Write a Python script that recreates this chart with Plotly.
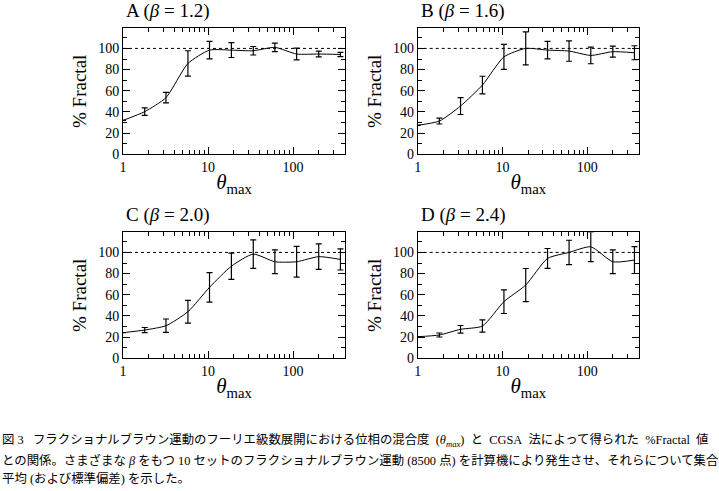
import plotly.graph_objects as go

# ---- data ----
theta_max = [1, 1.8, 3.2, 5.8, 10.4, 18.8, 34, 61, 110, 200, 360]

panel_titles = ["A (<i>β</i> = 1.2)", "B (<i>β</i> = 1.6)", "C (<i>β</i> = 2.0)", "D (<i>β</i> = 2.4)"]

fractal_A = [32, 40.3, 53.5, 85.8, 98.4, 98.4, 97.8, 101, 94.7, 94.7, 94.3]
err_A = [None, 3.5, 5, 12, 8.3, 7, 4, 4, 5.5, 2.7, 2]

fractal_B = [27.4, 31.4, 45.6, 65.4, 92, 100, 98.4, 97.5, 93.4, 96.9, 95.9]
err_B = [None, 2.8, 8, 8.3, 11.8, 15.6, 8.3, 9.6, 7.9, 5.2, 6.6]

fractal_C = [24.2, 26.7, 30.8, 44, 67, 87, 98.4, 91.2, 91.2, 96, 93.4]
err_C = [None, 2.4, 6.3, 10.8, 14, 12.4, 13.5, 11.2, 14.6, 12, 10]

fractal_D = [20.4, 22, 27.4, 30.5, 53.5, 69.2, 94.3, 100, 105.3, 91.2, 92.8]
err_D = [None, 1.9, 3.6, 5.7, 11.2, 15.6, 9.4, 11.5, 14, 11.2, 12.7]

y_ticks = [0, 20, 40, 60, 80, 100]
x_ticks = [1, 10, 100]
x_tick_labels = ["1", "10", "100"]
reference_level = 100

NB = "\u00a0"
caption_lines = [
    "図 3" + NB * 3 + "フラクショナルブラウン運動のフーリエ級数展開における位相の混合度" + NB * 2
    + "(<i>θ<sub>max</sub></i>)" + NB * 2 + "と" + NB * 2 + "CGSA" + NB * 2 + "法によって得られた" + NB * 2
    + "%Fractal" + NB * 2 + "値",
    "との関係。さまざまな <i>β</i> をもつ 10 セットのフラクショナルブラウン運動 (8500 点) を計算機により発生させ、それらについて集合",
    "平均 (および標準偏差) を示した。",
]

# ---- layout helpers ----
W, H = 719, 491
def px(x):
    return x / W
def py(y):
    return 1 - y / H

panels = [
    (fractal_A, err_A, (123, 345), (28.3, 154.3)),
    (fractal_B, err_B, (417.7, 639), (28.3, 154.3)),
    (fractal_C, err_C, (123, 345), (232.3, 358.3)),
    (fractal_D, err_D, (417.7, 639), (232.3, 358.3)),
]

serif = "Liberation Serif, DejaVu Serif, serif"

fig = go.Figure()
annotations = []
shapes = []
for i, (vals, errs, (x0, x1), (yt, yb)) in enumerate(panels):
    n = i + 1
    xa = "x" if n == 1 else f"x{n}"
    ya = "y" if n == 1 else f"y{n}"
    fig.add_trace(go.Scatter(
        x=theta_max, y=vals, mode="lines", xaxis=xa, yaxis=ya,
        line=dict(color="black", width=1, shape="spline", smoothing=0.6),
        error_y=dict(type="data", array=errs, visible=True, color="black",
                     thickness=1.2, width=3),
        showlegend=False, cliponaxis=False,
    ))
    axis_common = dict(showline=True, linecolor="black", linewidth=1, mirror="ticks",
                       ticks="inside", tickcolor="black", showgrid=False, zeroline=False,
                       automargin=False,
                       tickfont=dict(family=serif, size=14, color="black"))
    fig.layout[("xaxis" if n == 1 else f"xaxis{n}")] = dict(
        type="log", range=[0, 2.61], domain=[px(x0), px(x1)],
        anchor=ya, tickvals=x_ticks, ticktext=x_tick_labels, ticklen=7,
        minor=dict(ticks="inside", ticklen=4, tickcolor="black",
                   tickvals=[2, 3, 4, 5, 6, 7, 8, 9, 20, 30, 40, 50, 60, 70, 80, 90, 200, 300]),
        title=dict(text="<i>θ</i><sub>max</sub>", font=dict(family=serif, size=21, color="black"), standoff=0),
        **axis_common)
    fig.layout[("yaxis" if n == 1 else f"yaxis{n}")] = dict(
        range=[0, 119], domain=[py(yb), py(yt)], anchor=xa,
        tickvals=y_ticks, ticklen=7,
        minor=dict(ticks="inside", ticklen=4, tickcolor="black", dtick=10),
        title=dict(text="% Fractal", font=dict(family=serif, size=19, color="black"), standoff=6),
        **axis_common)
    shapes.append(dict(type="line", xref=f"{xa} domain", yref=ya, x0=0, x1=1,
                       y0=reference_level, y1=reference_level,
                       line=dict(color="black", width=1, dash="3px,3px")))
    annotations.append(dict(text=panel_titles[i], xref="paper", yref="paper",
                            x=px(x0 + 1), y=py(yt - 17), xanchor="left", yanchor="middle",
                            showarrow=False, font=dict(family=serif, size=19, color="black")))

for j, (line, yy) in enumerate(zip(caption_lines, [440, 460, 478])):
    annotations.append(dict(text=line, xref="paper", yref="paper", x=px(0), y=py(yy),
                            xanchor="left", yanchor="middle", showarrow=False,
                            font=dict(family="Liberation Serif, Noto Sans CJK JP", size=12.4, color="black")))

fig.update_layout(width=W, height=H, margin=dict(l=0, r=0, t=0, b=0),
                  paper_bgcolor="white", plot_bgcolor="white",
                  annotations=annotations, shapes=shapes)

fig.write_html("out.html", config={"displayModeBar": False},
               post_script="document.body.style.margin='0';")
